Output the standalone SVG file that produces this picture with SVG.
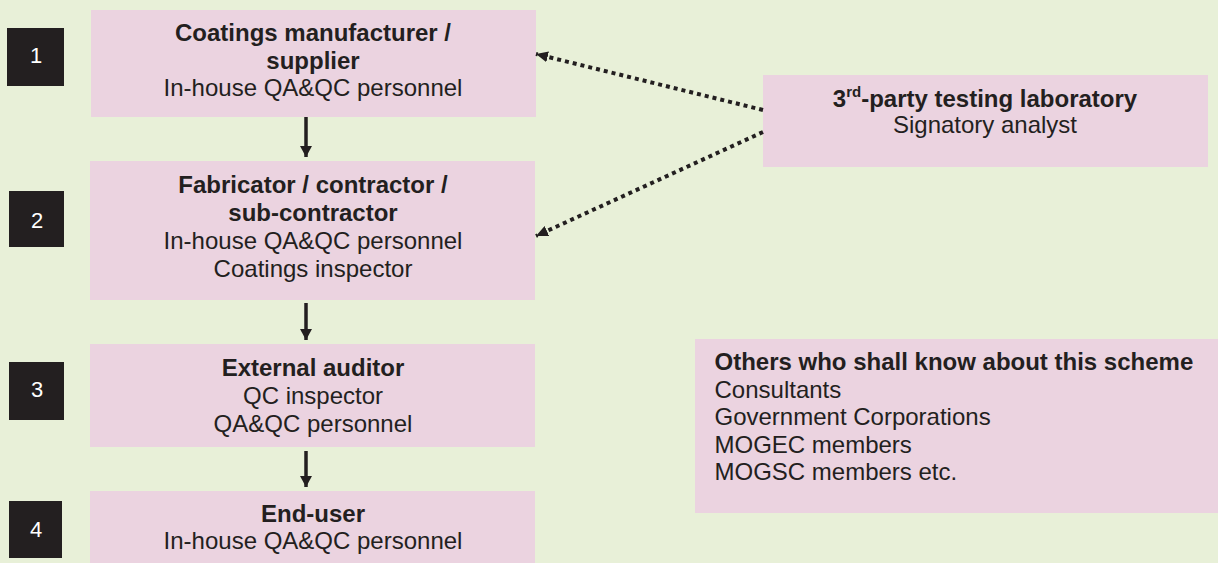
<svg xmlns="http://www.w3.org/2000/svg" width="1218" height="563" viewBox="0 0 1218 563">
<style>
.bg{fill:#E8F0D8}
.box{fill:#EBD3E0}
.num{fill:#231F20}
.t{font-family:"Liberation Sans",Arial,sans-serif;font-size:24px;fill:#231F20}
.c{text-anchor:middle}
.b{font-weight:bold}
.n{font-family:"Liberation Sans",Arial,sans-serif;font-size:22px;fill:#FFFFFF;text-anchor:middle}
.solid{stroke:#231F20;stroke-width:3.5;fill:none}
.dot{stroke:#231F20;stroke-width:4;stroke-dasharray:4 4;fill:none}
</style>
<defs>
<marker id="ah" markerUnits="userSpaceOnUse" markerWidth="11" markerHeight="12" refX="11" refY="6" orient="auto" viewBox="0 0 11 12">
<path d="M0,0 L11,6 L0,12 z" fill="#231F20"/>
</marker>
<marker id="ahd" markerUnits="userSpaceOnUse" markerWidth="12" markerHeight="11" refX="12" refY="5.5" orient="auto" viewBox="0 0 12 11">
<path d="M0,0 L12,5.5 L0,11 z" fill="#231F20"/>
</marker>
</defs>
<rect class="bg" x="0" y="0" width="1218" height="563"/>

<g id="step1">
<rect class="num" x="7" y="28" width="57" height="58"/>
<text class="n" x="36" y="63">1</text>
</g>
<g id="step2">
<rect class="num" x="9" y="191" width="55" height="56"/>
<text class="n" x="37" y="228">2</text>
</g>
<g id="step3">
<rect class="num" x="9" y="362" width="55" height="58"/>
<text class="n" x="37" y="397">3</text>
</g>
<g id="step4">
<rect class="num" x="9" y="501" width="53" height="57"/>
<text class="n" x="36" y="537">4</text>
</g>

<g id="manufacturer">
<rect class="box" x="91" y="10" width="445" height="107"/>
<text class="t c b" x="313" y="41">Coatings manufacturer /</text>
<text class="t c b" x="313" y="68.5">supplier</text>
<text class="t c" x="313" y="96">In-house QA&amp;QC personnel</text>
</g>

<g id="fabricator">
<rect class="box" x="90" y="161" width="445" height="139"/>
<text class="t c b" x="313" y="193">Fabricator / contractor /</text>
<text class="t c b" x="313" y="221">sub-contractor</text>
<text class="t c" x="313" y="249">In-house QA&amp;QC personnel</text>
<text class="t c" x="313" y="276.5">Coatings inspector</text>
</g>

<g id="auditor">
<rect class="box" x="90" y="344" width="445" height="103"/>
<text class="t c b" x="313" y="376">External auditor</text>
<text class="t c" x="313" y="403.5">QC inspector</text>
<text class="t c" x="313" y="431.5">QA&amp;QC personnel</text>
</g>

<g id="enduser">
<rect class="box" x="90" y="491" width="445" height="72"/>
<text class="t c b" x="313" y="521.5">End-user</text>
<text class="t c" x="313" y="549">In-house QA&amp;QC personnel</text>
</g>

<g id="laboratory">
<rect class="box" x="763" y="75" width="445" height="92"/>
<text class="t c b" x="985" y="106.5">3<tspan font-size="15" dy="-10">rd</tspan><tspan dy="10">-party testing laboratory</tspan></text>
<text class="t c" x="985" y="133">Signatory analyst</text>
</g>

<g id="others">
<rect class="box" x="695" y="339" width="523" height="174"/>
<text class="t b" x="714.5" y="370">Others who shall know about this scheme</text>
<text class="t" x="714.5" y="397.5">Consultants</text>
<text class="t" x="714.5" y="425">Government Corporations</text>
<text class="t" x="714.5" y="452.5">MOGEC members</text>
<text class="t" x="714.5" y="480">MOGSC members etc.</text>
</g>

<g id="connectors">
<line class="solid" x1="306" y1="117" x2="306" y2="157" marker-end="url(#ah)"/>
<line class="solid" x1="306" y1="303" x2="306" y2="340" marker-end="url(#ah)"/>
<line class="solid" x1="306" y1="451" x2="306" y2="487" marker-end="url(#ah)"/>
<line class="dot" x1="763" y1="110" x2="536" y2="54" marker-end="url(#ahd)"/>
<line class="dot" x1="763" y1="132" x2="536" y2="236" marker-end="url(#ahd)"/>
</g>
</svg>
